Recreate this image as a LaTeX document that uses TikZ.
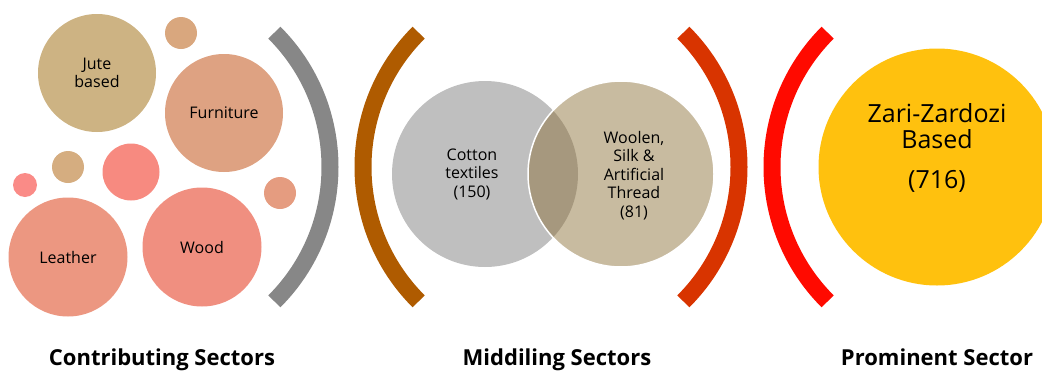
\documentclass[tikz,border=0pt]{standalone}
\usepackage{fontspec}
\setmainfont{Open Sans}
\begin{document}
\begin{tikzpicture}[x=1pt,y=-1pt,
  bubble/.style={circle, inner sep=0pt, outer sep=0pt, align=center,
    font=\fontsize{16}{18.5}\selectfont},
  bracketarc/.style={line width=17pt},
  sectorlabel/.style={anchor=base, font=\fontsize{22}{26}\selectfont\bfseries},
  venntext/.style={align=center, font=\fontsize{16}{18.5}\selectfont}]
\useasboundingbox (0,0) rectangle (1042,370);

% contributing sectors: bubble cluster
\node[bubble, fill={rgb,255:red,205;green,179;blue,131}, minimum size=118pt] (jute) at (97,73) {Jute\\based};
\node[bubble, fill={rgb,255:red,217;green,167;blue,126}, minimum size=32pt] (dotA) at (181,33) {};
\node[bubble, fill={rgb,255:red,222;green,162;blue,130}, minimum size=118pt] (furniture) at (224,113) {Furniture};
\node[bubble, fill={rgb,255:red,213;green,173;blue,128}, minimum size=32pt] (dotB) at (68,167) {};
\node[bubble, fill={rgb,255:red,247;green,138;blue,128}, minimum size=57pt] (dotC) at (131,172) {};
\node[bubble, fill={rgb,255:red,250;green,139;blue,135}, minimum size=24pt] (dotD) at (25,185) {};
\node[bubble, fill={rgb,255:red,229;green,156;blue,128}, minimum size=32pt] (dotE) at (280,193) {};
\node[bubble, fill={rgb,255:red,236;green,151;blue,129}, minimum size=119pt] (leather) at (68,257) {Leather};
\node[bubble, fill={rgb,255:red,240;green,143;blue,128}, minimum size=119pt] (wood) at (202,247) {Wood};

% bracket arcs
\draw[bracketarc, draw={rgb,255:red,135;green,135;blue,135}]
  (140,167) ++(-45:190) arc[start angle=-45, end angle=45, radius=190];
\draw[bracketarc, draw={rgb,255:red,175;green,91;blue,0}]
  (553,167) ++(135:190) arc[start angle=135, end angle=225, radius=190];
\draw[bracketarc, draw={rgb,255:red,216;green,52;blue,0}]
  (549,167) ++(-45:190) arc[start angle=-45, end angle=45, radius=190];
\draw[bracketarc, draw={rgb,255:red,255;green,10;blue,0}]
  (962,167) ++(135:190) arc[start angle=135, end angle=225, radius=190];

% middling sectors: overlapping pair
\node[circle, inner sep=0pt, fill={rgb,255:red,191;green,191;blue,191}, minimum size=186pt] (cotton) at (485,174) {};
\node[circle, inner sep=0pt, fill={rgb,255:red,138;green,110;blue,53}, fill opacity=0.47,
  draw=white, line width=1.5pt, minimum size=186pt] (woolen) at (621,174) {};
\node[venntext] (cottontext) at (472,174) {Cotton\\textiles\\(150)};
\node[venntext] (woolentext) at (634,175.5) {Woolen,\\Silk \&\\Artificial\\Thread\\(81)};

% prominent sector
\node[circle, inner sep=0pt, fill={rgb,255:red,255;green,193;blue,14}, minimum size=237pt] (zari) at (937,167) {};
\node[align=center, font=\fontsize{25}{26}\selectfont] (zaritext) at (937,148) {Zari-Zardozi\\Based\\[14pt](716)};

% section captions
\node[sectorlabel] (capA) at (162,365) {Contributing Sectors};
\node[sectorlabel] (capB) at (557,365) {Middiling Sectors};
\node[sectorlabel] (capC) at (937,365) {Prominent Sector};
\end{tikzpicture}
\end{document}
